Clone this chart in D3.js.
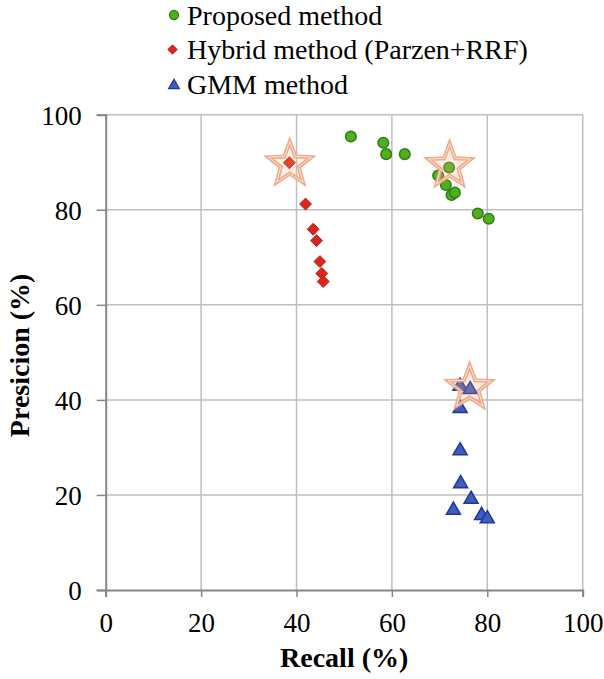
<!DOCTYPE html>
<html><head><meta charset="utf-8">
<script src="https://cdn.jsdelivr.net/npm/d3@7/dist/d3.min.js"></script>
<style>html,body{margin:0;padding:0;background:#fff}svg{display:block}
svg text{font-family:"Liberation Serif",serif !important;}</style>
</head><body>
<script>
const xTicks = [0,20,40,60,80,100];
const yTicks = [0,20,40,60,80,100];
const seriesNames = ["Proposed method","Hybrid method (Parzen+RRF)","GMM method"];
const proposedX = [51.4,58.2,58.8,62.7,72.0,69.7,71.3,72.5,73.2,78.0,80.3];
const proposedY = [95.4,94.1,91.7,91.7,88.9,87.2,85.2,83.1,83.6,79.2,78.1];
const hybridX = [38.5,41.9,43.5,44.2,44.9,45.3,45.6];
const hybridY = [89.9,81.2,75.9,73.5,69.1,66.6,64.9];
const gmmX = [74.3,76.4,74.3,74.3,74.4,76.6,72.9,78.8,80.0];
const gmmY = [43.1,42.4,38.4,29.5,22.6,19.3,17.0,15.9,15.2];
const starX = [38.6,72.1,76.3];
const starY = [89.6,89.2,42.5];

const W=604,H=679;
const m={l:105.7,r:21.3,t:114.7,b:89};
const svg=d3.select("body").append("svg").attr("width",W).attr("height",H);
const x=d3.scaleLinear().domain([0,100]).range([m.l,W-m.r]);
const y=d3.scaleLinear().domain([0,100]).range([H-m.b,m.t]);

// grid
const g=svg.append("g");
g.selectAll(".vg").data(xTicks.filter(d=>d>0)).join("line")
 .attr("x1",d=>x(d)).attr("x2",d=>x(d)).attr("y1",y(0)).attr("y2",y(100))
 .attr("stroke","#bfbfbf").attr("stroke-width",1.5);
g.selectAll(".hg").data(yTicks.filter(d=>d>0)).join("line")
 .attr("y1",d=>y(d)).attr("y2",d=>y(d)).attr("x1",x(0)).attr("x2",x(100))
 .attr("stroke","#bfbfbf").attr("stroke-width",1.5);

// axes
const xa=svg.append("g").attr("transform",`translate(0,${y(0)})`)
 .call(d3.axisBottom(x).tickValues(xTicks).tickSize(7).tickPadding(15.5));
const ya=svg.append("g").attr("transform",`translate(${x(0)},0)`)
 .call(d3.axisLeft(y).tickValues(yTicks).tickSize(9).tickPadding(15));
[xa,ya].forEach(a=>{
  a.attr("font-family",null);
  a.select(".domain").attr("stroke","#868686").attr("stroke-width",2);
  a.selectAll(".tick line").attr("stroke","#868686").attr("stroke-width",1.5);
  a.selectAll(".tick text").attr("font-size",27).attr("fill","#000");
});
xa.selectAll(".tick text").attr("dy","0.71em");
ya.selectAll(".tick text").attr("dy","0.35em");

// axis titles
svg.append("text").attr("x",x(50)).attr("y",667).attr("text-anchor","middle")
 .attr("font-weight","bold").attr("font-size",28).text("Recall (%)");
svg.append("text").attr("transform",`translate(29,${y(50)+3}) rotate(-90)`).attr("text-anchor","middle")
 .attr("font-weight","bold").attr("font-size",28).text("Presicion (%)");

const prop=proposedX.map((v,i)=>({x:v,y:proposedY[i]}));
const hyb=hybridX.map((v,i)=>({x:v,y:hybridY[i]}));
const gmm=gmmX.map((v,i)=>({x:v,y:gmmY[i]}));
const stars=starX.map((v,i)=>({x:v,y:starY[i]}));

const gs=svg.append("g");
gs.selectAll("circle").data(prop).join("circle")
 .attr("cx",d=>x(d.x)).attr("cy",d=>y(d.y)).attr("r",5.3)
 .attr("fill","#4fb11a").attr("stroke","#2f7d1c").attr("stroke-width",1.5);
const diam=d3.symbol().type(d3.symbolDiamond2).size(90);
gs.selectAll(".dia").data(hyb).join("path")
 .attr("transform",d=>`translate(${x(d.x)},${y(d.y)})`).attr("d",diam)
 .attr("fill","#d8261c").attr("stroke","#b4201a").attr("stroke-width",1);
const tri=d3.symbol().type(d3.symbolTriangle).size(85);
gs.selectAll(".tri").data(gmm).join("path")
 .attr("transform",d=>`translate(${x(d.x)},${y(d.y)+1})`).attr("d",tri)
 .attr("fill","#3c5ec0").attr("stroke","#25339a").attr("stroke-width",1.5);

// stars
function starPath(R,r){
  const pts=[];
  for(let i=0;i<10;i++){const a=-Math.PI/2+i*Math.PI/5;const rr=i%2?r:R;pts.push([rr*Math.cos(a),rr*Math.sin(a)]);}
  return "M"+pts.map(p=>p.join(",")).join("L")+"Z";
}
const st=svg.append("g");
st.selectAll(".s1").data(stars).join("path")
 .attr("transform",d=>`translate(${x(d.x)},${y(d.y)})`).attr("d",starPath(22.5,9.5))
 .attr("fill","rgba(244,176,132,0.22)").attr("stroke","#eea27e").attr("stroke-width",4).attr("stroke-opacity",0.9);
st.selectAll(".s2").data(stars).join("path")
 .attr("transform",d=>`translate(${x(d.x)},${y(d.y)})`).attr("d",starPath(22.5,9.5))
 .attr("fill","none").attr("stroke","#fbe3d6").attr("stroke-width",1);

// legend
const lg=svg.append("g");
const rows=[15,49.5,84.5];
lg.append("circle").attr("cx",174).attr("cy",rows[0]).attr("r",4.5).attr("fill","#4fb11a").attr("stroke","#2f7d1c").attr("stroke-width",1.3);
lg.append("path").attr("transform",`translate(172.5,${rows[1]})`).attr("d",d3.symbol().type(d3.symbolDiamond2).size(55)).attr("fill","#d8261c").attr("stroke","#b4201a");
lg.append("path").attr("transform",`translate(174,${rows[2]+1})`).attr("d",d3.symbol().type(d3.symbolTriangle).size(50)).attr("fill","#3c5ec0").attr("stroke","#25339a").attr("stroke-width",1.2);
lg.selectAll("text").data(seriesNames).join("text")
 .attr("x",187).attr("y",(d,i)=>rows[i]+9.5).attr("font-size",28).attr("fill","#000").text(d=>d);
</script>
</body></html>
